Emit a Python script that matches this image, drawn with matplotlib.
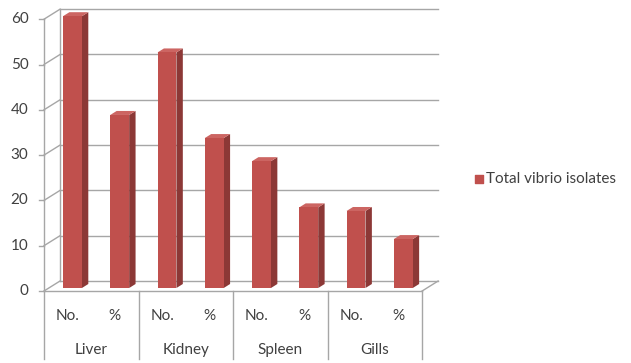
import numpy as np
import matplotlib.pyplot as plt
from matplotlib.patches import Polygon

organs = ['Liver', 'Kidney', 'Spleen', 'Gills']
measures = ['No.', '%']
counts = [60, 52, 28, 17]
percents = [38.2, 33.1, 17.8, 10.8]
series_name = 'Total vibrio isolates'
yticks = [0, 10, 20, 30, 40, 50, 60]

# interleave count / percent per organ
values = []
for c, p in zip(counts, percents):
    values += [c, p]
n = len(values)

FRONT = '#C0504D'
SIDE = '#8C3836'
TOP = '#CC6562'
GRID = '#A6A6A6'
TXT = '#404040'
FS = 11

# fake 3-D: depth vector in data units (categories, value)
DX, DY = 0.339, 2.21
ymax = 60

fig = plt.figure(figsize=(6.31, 3.63), dpi=100)
ax = fig.add_axes([0, 0, 1, 1])
ax.set_xlim(-0.931, 12.42)
ax.set_ylim(-15.89, 64.24)
ax.axis('off')
plt.rcParams['font.family'] = ['Lato', 'DejaVu Sans']

# back wall gridlines and left wall diagonals
for t in yticks:
    ax.plot([DX, n + DX], [t + DY, t + DY], color=GRID, lw=1.0)
    ax.plot([0, DX], [t, t + DY], color=GRID, lw=1.0)
    ax.plot([-0.1, 0], [t, t], color=GRID, lw=1.0)
    ax.text(-0.33, t, str(t), ha='right', va='center', fontsize=FS, color=TXT)
ax.plot([DX, DX], [DY, ymax + DY], color=GRID, lw=1.0)
ax.plot([0, 0], [0, ymax], color=GRID, lw=1.0)
# floor
ax.plot([0, n], [0, 0], color=GRID, lw=1.0)
ax.plot([n, n + DX], [0, DY], color=GRID, lw=1.0)

# bars
w = 0.4
d0, d1 = 0.3, 0.7
for i, v in enumerate(values):
    x0 = i + 0.5 - w / 2 + d0 * DX
    y0 = d0 * DY
    ddx, ddy = (d1 - d0) * DX, (d1 - d0) * DY
    side = [(x0 + w, y0), (x0 + w + ddx, y0 + ddy), (x0 + w + ddx, y0 + v + ddy), (x0 + w, y0 + v)]
    top = [(x0, y0 + v), (x0 + w, y0 + v), (x0 + w + ddx, y0 + v + ddy), (x0 + ddx, y0 + v + ddy)]
    ax.add_patch(Polygon(side, closed=True, fc=SIDE, ec='none', zorder=3))
    ax.add_patch(Polygon(top, closed=True, fc=TOP, ec='none', zorder=3))
    ax.bar(x0 + w / 2, v, width=w, bottom=y0, color=FRONT, zorder=4)

# category labels in two rows
for i in range(n):
    ax.text(i + 0.5, -5.6, measures[i % 2], ha='center', va='center', fontsize=FS, color=TXT)
for j, org in enumerate(organs):
    ax.text(2 * j + 1, -13.1, org, ha='center', va='center', fontsize=FS, color=TXT)
for k in range(len(organs) + 1):
    ax.plot([2 * k, 2 * k], [0, -14.9], color=GRID, lw=1.0)

# legend
ax.scatter([9.2], [24.7], marker='s', s=34, color=FRONT)
ax.text(9.36, 24.7, series_name, ha='left', va='center', fontsize=FS, color=TXT)

fig.savefig('out.png', dpi=100)
